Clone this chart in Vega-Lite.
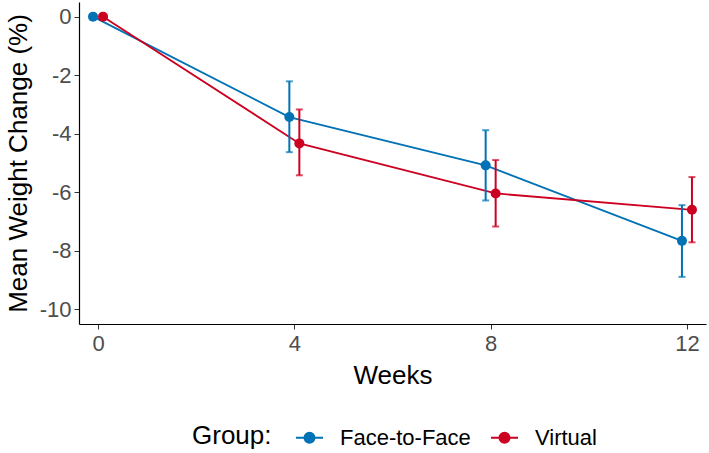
{
  "$schema": "https://vega.github.io/schema/vega-lite/v6.json",
  "width": 627,
  "height": 322,
  "autosize": "none",
  "padding": {"left": 79, "top": 2, "right": 3, "bottom": 129},
  "background": "white",
  "config": {
    "view": {"stroke": null},
    "font": "Liberation Sans",
    "axis": {
      "grid": false,
      "domainColor": "black",
      "domainWidth": 1.2,
      "tickColor": "#333333",
      "tickSize": 5,
      "labelFont": "Liberation Sans",
      "labelFontSize": 22,
      "labelColor": "#4D4D4D",
      "titleFont": "Liberation Sans",
      "titleFontSize": 26,
      "titleFontWeight": "normal",
      "titleColor": "black"
    },
    "legend": {
      "labelFont": "Liberation Sans",
      "titleFont": "Liberation Sans"
    }
  },
  "data": {
    "values": [
      {"week": 0, "group": "Face-to-Face", "mean": 0, "lo": 0, "hi": 0},
      {"week": 4, "group": "Face-to-Face", "mean": -3.43, "lo": -4.63, "hi": -2.21},
      {"week": 8, "group": "Face-to-Face", "mean": -5.08, "lo": -6.28, "hi": -3.88},
      {"week": 12, "group": "Face-to-Face", "mean": -7.66, "lo": -8.89, "hi": -6.44},
      {"week": 0, "group": "Virtual", "mean": 0, "lo": 0, "hi": 0},
      {"week": 4, "group": "Virtual", "mean": -4.33, "lo": -5.42, "hi": -3.17},
      {"week": 8, "group": "Virtual", "mean": -6.04, "lo": -7.17, "hi": -4.9},
      {"week": 12, "group": "Virtual", "mean": -6.6, "lo": -7.71, "hi": -5.48}
    ]
  },
  "encoding": {
    "x": {
      "field": "week",
      "type": "ordinal",
      "scale": {"type": "point", "domain": [0, 4, 8, 12], "padding": 0.097},
      "axis": {"title": "Weeks", "titlePadding": 8, "labelPadding": 4, "labelAngle": 0}
    },
    "xOffset": {"field": "group", "type": "nominal", "scale": {"range": [-10, 10]}},
    "color": {
      "field": "group",
      "type": "nominal",
      "scale": {"domain": ["Face-to-Face", "Virtual"], "range": ["#0072B5", "#CC0020"]},
      "legend": {
        "title": "Group:",
        "orient": "none",
        "legendX": 113,
        "legendY": 421,
        "direction": "horizontal",
        "titleOrient": "left",
        "titleFontSize": 26,
        "titleFontWeight": "normal",
        "titleColor": "black",
        "titlePadding": 23,
        "labelFontSize": 22,
        "labelColor": "black",
        "labelOffset": 16,
        "columnPadding": 16,
        "symbolType": "M-1,0L1,0M-0.37,0A0.37,0.37 0 1 1 0.37,0A0.37,0.37 0 1 1 -0.37,0Z",
        "symbolSize": 729,
        "symbolStrokeWidth": 2,
        "symbolOpacity": 1,
        "symbolFillColor": null
      }
    }
  },
  "layer": [
    {
      "mark": {"type": "line", "strokeWidth": 1.8},
      "encoding": {
        "y": {
          "field": "mean",
          "type": "quantitative",
          "scale": {"domain": [-10.5, 0.5], "nice": false, "zero": false},
          "title": "Mean Weight Change (%)",
          "axis": {"values": [0, -2, -4, -6, -8, -10], "titlePadding": 8, "labelPadding": 3, "labelExpr": "toString(datum.value)"}
        }
      }
    },
    {
      "mark": {"type": "rule", "strokeWidth": 2},
      "encoding": {
        "y": {"field": "lo", "type": "quantitative", "title": "Mean Weight Change (%)"},
        "y2": {"field": "hi"}
      }
    },
    {
      "mark": {"type": "tick", "size": 7, "thickness": 2},
      "encoding": {
        "y": {"field": "lo", "type": "quantitative", "title": "Mean Weight Change (%)"}
      }
    },
    {
      "mark": {"type": "tick", "size": 7, "thickness": 2},
      "encoding": {
        "y": {"field": "hi", "type": "quantitative", "title": "Mean Weight Change (%)"}
      }
    },
    {
      "mark": {"type": "point", "filled": true, "size": 100, "opacity": 1},
      "encoding": {
        "y": {"field": "mean", "type": "quantitative", "title": "Mean Weight Change (%)"}
      }
    }
  ]
}
